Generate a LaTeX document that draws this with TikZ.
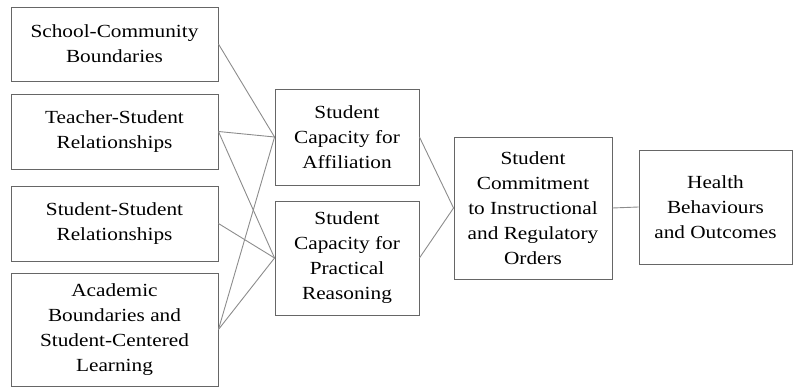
\documentclass[tikz,border=0pt]{standalone}
\usepackage{fontspec}
\setmainfont{Liberation Serif}[FakeStretch=1.15]
\begin{document}
\begin{tikzpicture}[x=1pt,y=-1pt,
        box/.style={rectangle, draw=black!60, line width=0.9pt, inner sep=0pt, align=center,
                    font=\fontsize{18.5}{25}\selectfont},
        link/.style={draw=black!45, line width=0.9pt},
        ]
        \useasboundingbox (0,0) rectangle (798,387);

        % Nodes
        \node[box, minimum width=207, minimum height=74] (sc) at (114.5,44) {School-Community\\Boundaries};
        \node[box, minimum width=207, minimum height=75] (ts) at (114.5,131.5) {Teacher-Student\\Relationships};
        \node[box, minimum width=207, minimum height=75] (ss) at (114.5,223.5) {Student-Student\\Relationships};
        \node[box, minimum width=207, minimum height=113] (ab) at (114.5,329.5) {Academic\\Boundaries and\\Student-Centered\\Learning};

        % Nodes
        \node[box, minimum width=144, minimum height=96] (af) at (347,137) {Student\\Capacity for\\Affiliation};
        \node[box, minimum width=144, minimum height=114] (pr) at (347,258) {Student\\Capacity for\\Practical\\Reasoning};
        \node[box, minimum width=158, minimum height=142] (co) at (533,208) {Student\\Commitment\\to Instructional\\and Regulatory\\Orders};
        \node[box, minimum width=153, minimum height=114] (hb) at (715.5,207) {Health\\Behaviours\\and Outcomes};

        % Contexts to capacities
        \draw[link] (sc.east) -- (af.west);
        \draw[link] (ts.east) -- (af.west);
        \draw[link] (ts.east) -- (pr.west);
        \draw[link] (ss.east) -- (pr.west);
        \draw[link] (ab.east) -- (af.west);
        \draw[link] (ab.east) -- (pr.west);

        % Capacities to commitment
        \draw[link] (af.east) -- (co.west);
        \draw[link] (pr.east) -- (co.west);
        \draw[link] (co.east) -- (hb.west);

    \end{tikzpicture}
\end{document}
